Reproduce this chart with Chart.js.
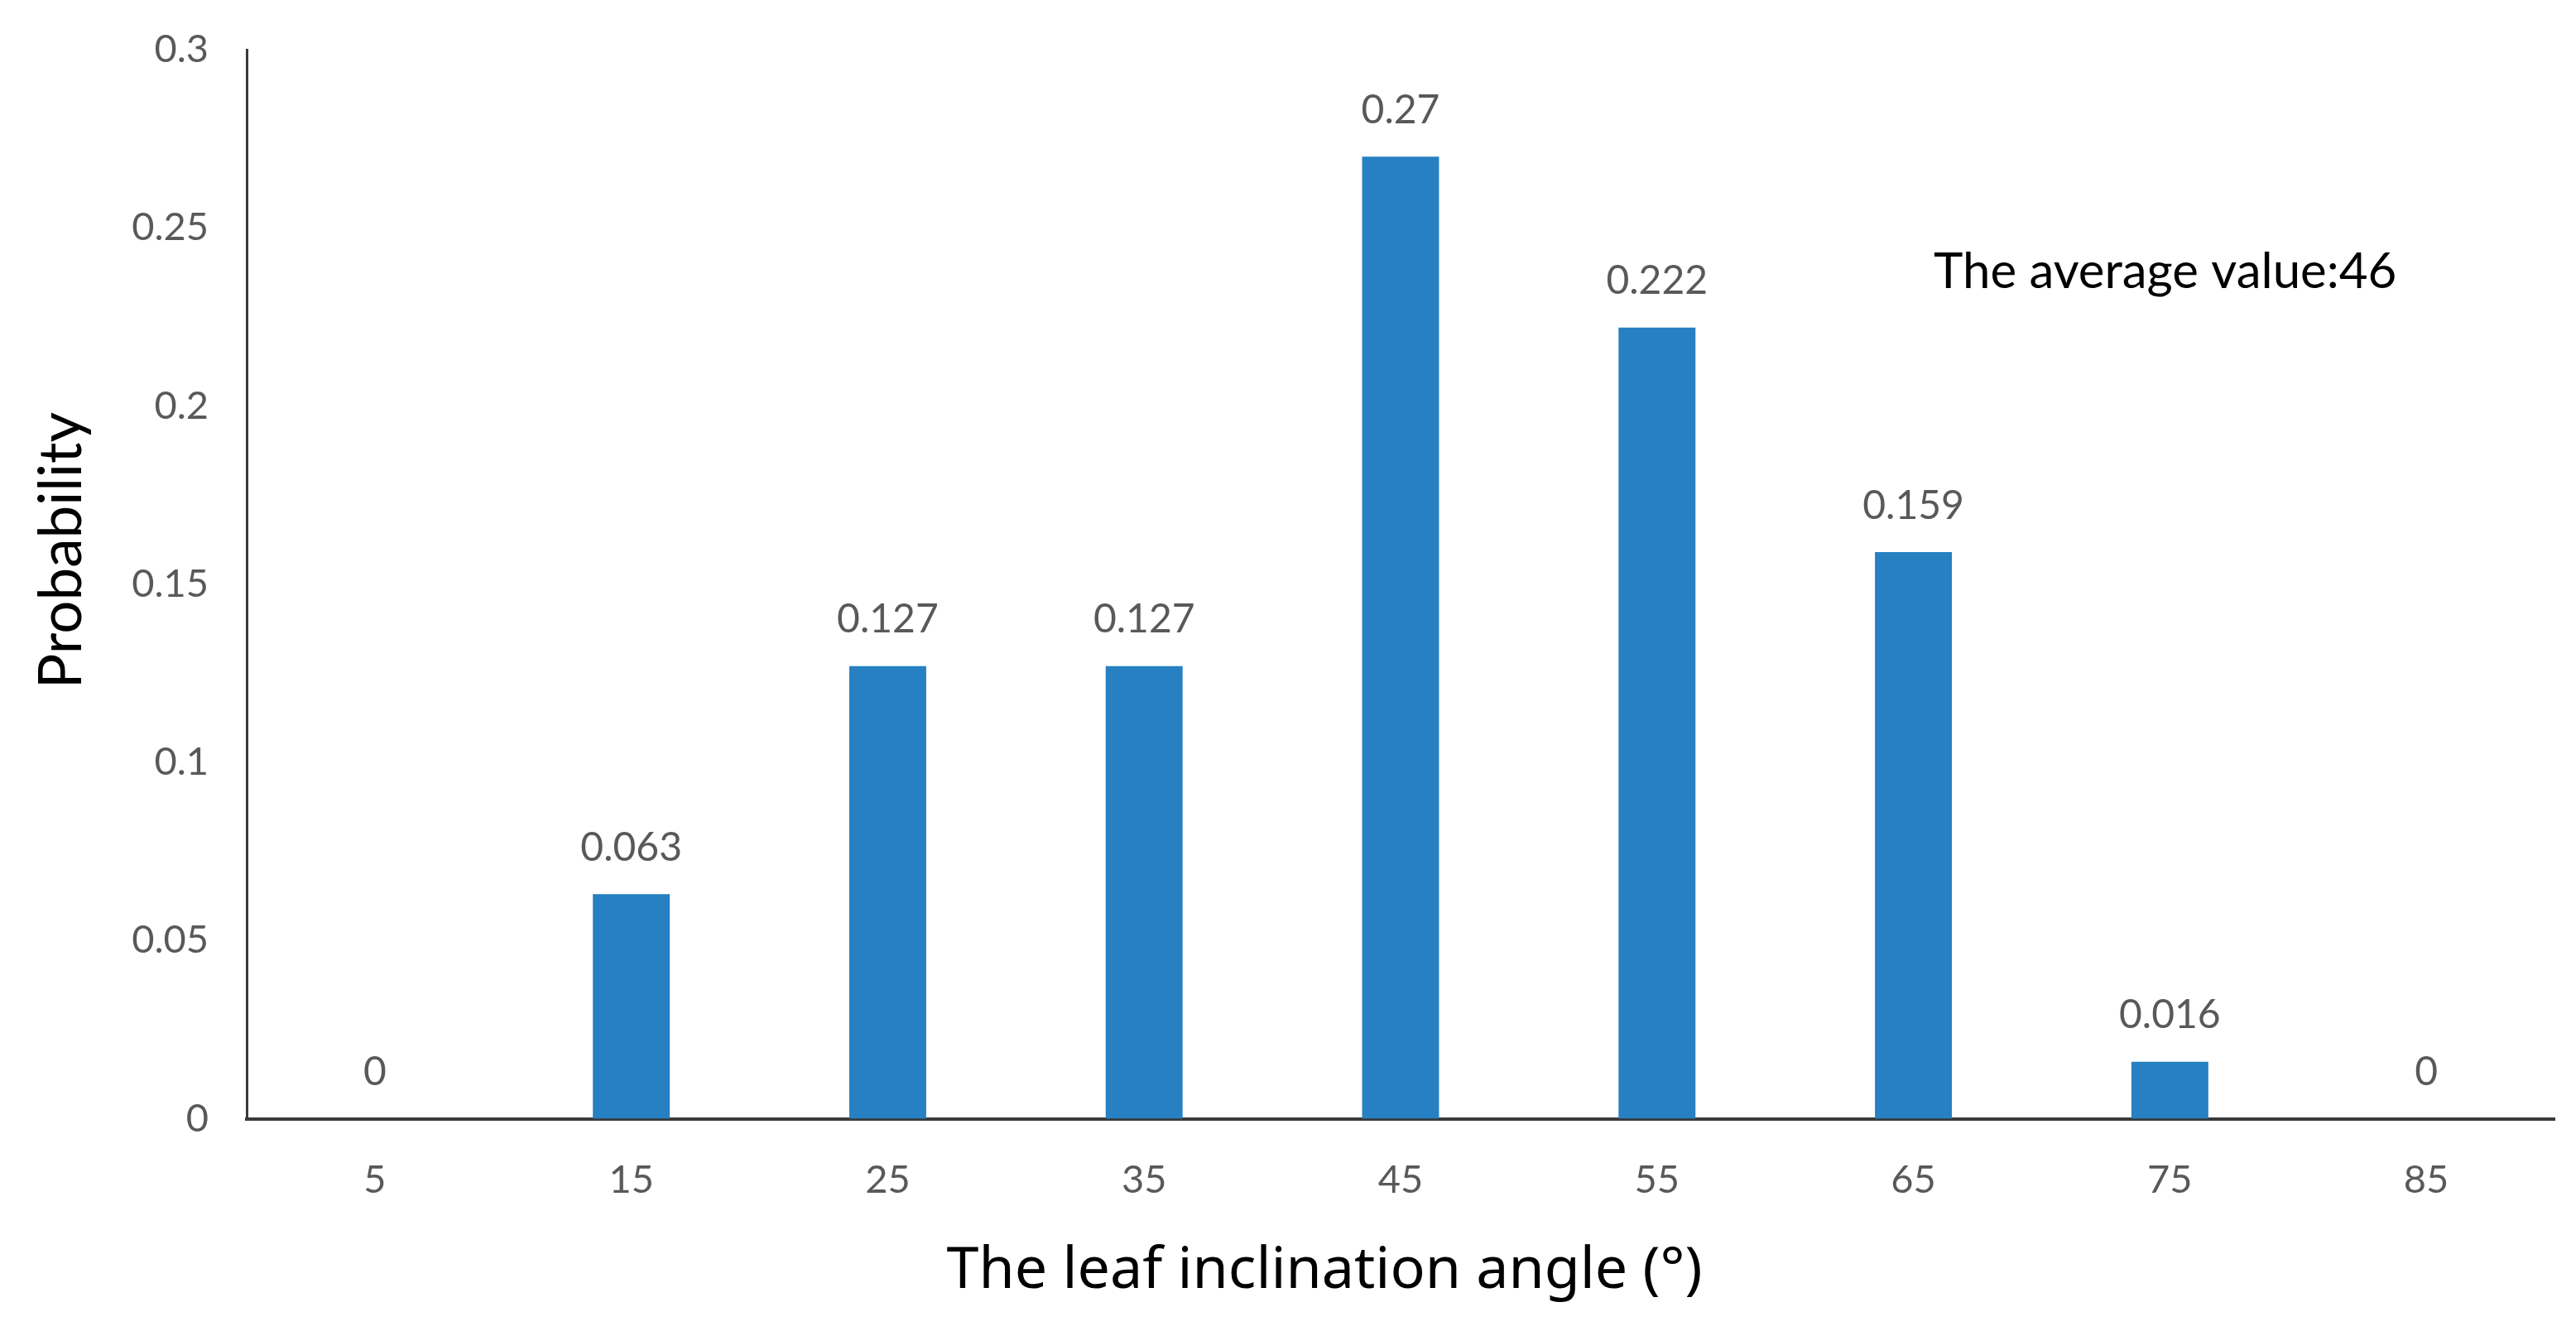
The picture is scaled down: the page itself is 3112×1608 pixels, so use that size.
<!DOCTYPE html>
<html>
<head>
<meta charset="utf-8">
<title>Leaf inclination angle</title>
<script src="https://cdn.jsdelivr.net/npm/chart.js@4"></script>
<style>
  html, body { margin: 0; padding: 0; background: #fff; }
  #wrap { width: 3112px; height: 1608px; }
</style>
</head>
<body>
<div id="wrap"><canvas id="chart_1" width="3112" height="1608"></canvas></div>
<script>
// leaf inclination angle classes (degrees) and their probabilities
const angles = ["5", "15", "25", "35", "45", "55", "65", "75", "85"]
const probability = [0, 0.063, 0.127, 0.127, 0.27, 0.222, 0.159, 0.016, 0]
const y_ticks = [0, 0.05, 0.1, 0.15, 0.2, 0.25, 0.3]
const average_text = "The average value:46"

const tick_grey = "#595959"
const bar_blue = "#2680c2"

// value labels over bars, axis titles and the average note
const extras = {
    id: "extras",
    afterDatasetsDraw(chart) {
        const ctx = chart.ctx
        const meta = chart.getDatasetMeta(0)
        ctx.save()
        ctx.font = "48px Lato"
        ctx.fillStyle = tick_grey
        ctx.textAlign = "center"
        ctx.textBaseline = "middle"
        meta.data.forEach((bar, i) => {
            ctx.fillText(String(probability[i]), bar.x, bar.y - 56)
        })

        ctx.fillStyle = "#000"
        ctx.font = "60px Lato"
        ctx.textAlign = "left"
        ctx.fillText(average_text, 2336, 329)

        ctx.font = "70px 'Noto Sans'"
        ctx.textAlign = "center"
        ctx.fillText("The leaf inclination angle (°)", 1600, 1536)

        ctx.translate(75, 665)
        ctx.rotate(-Math.PI / 2)
        ctx.font = "71px Lato"
        ctx.fillText("Probability", 0, 0)
        ctx.restore()
    }
}

const data_1 = {
    labels: angles,
    datasets: [
        {
            data: probability,
            backgroundColor: bar_blue,
            borderWidth: 0,
            categoryPercentage: 1,
            barPercentage: 0.30
        }
    ]
}

const config_1 = {
    type: "bar",
    data: data_1,
    plugins: [extras],
    options: {
        responsive: false,
        animation: false,
        devicePixelRatio: 1,
        layout: {
            padding: { top: 60, right: 26, bottom: 108, left: 0 }
        },
        plugins: {
            legend: { display: false },
            tooltip: { enabled: false }
        },
        scales: {
            x: {
                grid: { display: false, drawTicks: false },
                border: { display: true, color: "#3a3a3a", width: 4 },
                ticks: {
                    color: tick_grey,
                    font: { family: "Lato", size: 47 },
                    padding: 46
                }
            },
            y: {
                min: 0,
                max: 0.3,
                afterFit(scale) {
                    scale.width = 298
                    scale.paddingTop = 0
                    scale.paddingBottom = 0
                },
                afterBuildTicks(scale) {
                    scale.ticks = y_ticks.map(v => ({ value: v }))
                },
                grid: { display: false, drawTicks: false },
                border: { display: true, color: "#3a3a3a", width: 3 },
                ticks: {
                    color: tick_grey,
                    font: { family: "Lato", size: 47 },
                    padding: 46,
                    callback: v => String(v)
                }
            }
        }
    }
}

const ctx_1 = document.getElementById("chart_1").getContext("2d")
const chart_1 = new Chart(ctx_1, config_1)
</script>
</body>
</html>
